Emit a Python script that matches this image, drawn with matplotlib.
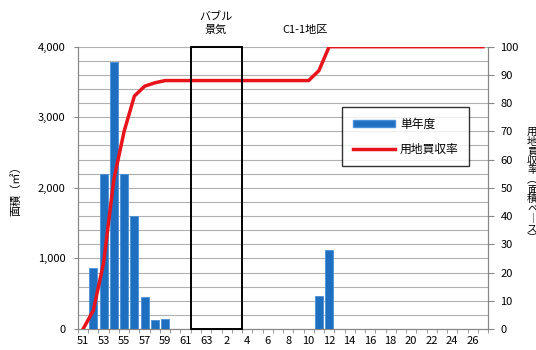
import matplotlib.pyplot as plt
import matplotlib.patches as mpatches
from matplotlib.lines import Line2D
import numpy as np

plt.rcParams['font.family'] = ['Noto Sans CJK JP', 'DejaVu Sans']

# 年度（昭和51〜63, 平成元〜27）
years = [str(y) for y in range(51, 64)] + [str(y) for y in range(1, 28)]
tick_labels = [y if i % 2 == 0 else "" for i, y in enumerate(years)]

# 単年度の取得面積（㎡）
area = [0, 860, 2200, 3790, 2200, 1600, 460, 125, 145, 0,
        0, 0, 0, 0, 0, 0, 0, 0, 0, 0,
        0, 0, 0, 470, 1115, 0, 0, 0, 0, 0,
        0, 0, 0, 0, 0, 0, 0, 0, 0, 0]

# 用地買収率（％）
rate = [0, 6.6, 23.5, 53, 70, 82.5, 86, 87.2, 88, 88,
        88, 88, 88, 88, 88, 88, 88, 88, 88, 88,
        88, 88, 88, 91.5, 100, 100, 100, 100, 100, 100,
        100, 100, 100, 100, 100, 100, 100, 100, 100, 100]

bubble_start, bubble_end = 10.5, 15.5   # 昭和62〜平成3

fig = plt.figure(figsize=(5.36, 3.5), dpi=100)
ax = fig.add_axes([0.1455, 0.06, 0.765, 0.8066])
ax2 = ax.twinx()

x = np.arange(len(years))
ax.bar(x, area, width=0.8, color='#1f6fc1', edgecolor='#4a90d6', linewidth=0.6, zorder=3)

ax.set_xlim(-0.5, len(years) - 0.5)
ax.set_ylim(0, 4000)
ax.set_yticks([0, 1000, 2000, 3000, 4000])
ax.set_yticklabels(['0', '1,000', '2,000', '3,000', '4,000'], fontsize=8)
ax.set_yticks(np.arange(0, 4001, 200), minor=True)
ax.tick_params(axis='y', which='minor', length=0)
ax.tick_params(axis='y', which='major', length=3, color='#888888', pad=6)
ax.grid(axis='y', which='both', color='#b0b0b0', linewidth=0.8, zorder=0)
ax.set_axisbelow(True)

ax.set_xticks(x)
ax.set_xticklabels(tick_labels, fontsize=8)
ax.tick_params(axis='x', which='major', length=0, pad=5)
ax.set_xticks(np.arange(-0.5, len(years), 1), minor=True)
ax.tick_params(axis='x', which='minor', length=3, color='#888888')

ax.spines['top'].set_visible(False)
ax2.spines['top'].set_visible(False)
for s in ['left', 'bottom', 'right']:
    ax.spines[s].set_color('#888888')
    ax2.spines[s].set_color('#888888')

ax2.plot(x, rate, color='#e8141b', linewidth=2.5, zorder=4)
ax2.set_ylim(0, 100)
ax2.set_yticks(np.arange(0, 101, 10))
ax2.tick_params(axis='y', labelsize=8, length=4, color='#888888', pad=5)

# バブル景気の枠
ax2.add_patch(mpatches.Rectangle((bubble_start, 0), bubble_end - bubble_start, 100,
                                 fill=False, edgecolor='black', linewidth=1.4, zorder=5,
                                 clip_on=False))

ax.set_ylabel('面積（㎡）', fontsize=8, labelpad=12)

fig.text(216 / 536, 1 - 24 / 350, 'バブル\n景気', ha='center', va='center', fontsize=8,
         linespacing=1.2)
fig.text(282 / 536, 1 - 30 / 350, 'C1-1地区', ha='left', va='center', fontsize=8)

# 右側の縦書きラベル（画像端で切れている）
fig.text(527 / 536, 1 - 185 / 350, '用\n地\n買\n収\n率\n︵\n面\n積\nベ\n｜\nス\n︶',
         ha='left', va='center', fontsize=7.5, linespacing=0.95)

handles = [mpatches.Patch(facecolor='#1f6fc1', edgecolor='#4a90d6'),
           Line2D([0], [0], color='#e8141b', linewidth=2.5)]
leg = ax2.legend(handles, ['単年度', '用地買収率'], loc='upper left',
                 bbox_to_anchor=(0.644, 0.786), borderaxespad=0, fontsize=8.5,
                 frameon=True, fancybox=False, edgecolor='black', handlelength=3.6,
                 handleheight=0.5, borderpad=0.9, labelspacing=1.0, handletextpad=0.4)
leg.get_frame().set_linewidth(1.0)
leg.set_zorder(10)

fig.savefig('out.png', dpi=100)
